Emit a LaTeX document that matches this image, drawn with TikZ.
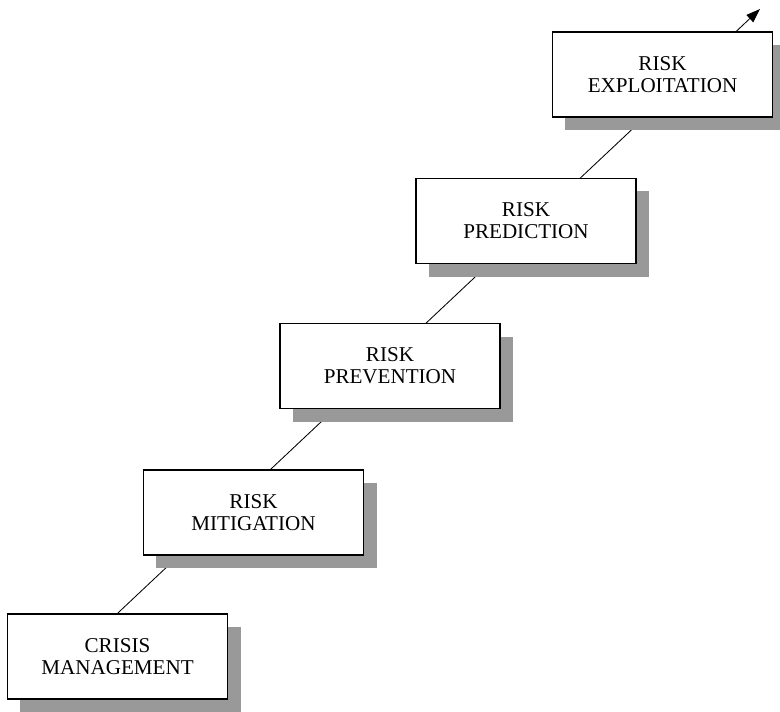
\documentclass[tikz,border=0pt]{standalone}
\usepackage{fontspec}
\setmainfont{Liberation Serif}
\usepackage{tikz}
\usetikzlibrary{shadows,backgrounds,arrows.meta}

\begin{document}
\begin{tikzpicture}[x=0.025cm,y=-0.025cm,
  stage/.style={draw,line width=0.9pt,fill=white,minimum width=5.5cm,
    minimum height=2.125cm,inner sep=0pt,align=center,
    font=\fontsize{15}{15.5}\selectfont,
    drop shadow={shadow xshift=0.325cm,shadow yshift=-0.325cm,
      fill=black!40,opacity=1}}]
  \useasboundingbox (0,0) rectangle (780,711);
  % the stages, bottom to top
  \node[stage] (crisis) at (117.5,656.5) {CRISIS\\MANAGEMENT};
  \node[stage] (mitig) at (253.5,512.5) {RISK\\MITIGATION};
  \node[stage] (prev) at (390,366) {RISK\\PREVENTION};
  \node[stage] (pred) at (526,221) {RISK\\PREDICTION};
  \node[stage] (expl) at (662.5,74.5) {RISK\\EXPLOITATION};
  % rising line behind the boxes
  \coordinate (tip) at (760,9);
  \begin{pgfonlayer}{background}
    \draw[line width=0.6pt,-{Triangle[length=10pt,width=7pt]}] (crisis.north) -- (tip);
  \end{pgfonlayer}
\end{tikzpicture}
\end{document}
